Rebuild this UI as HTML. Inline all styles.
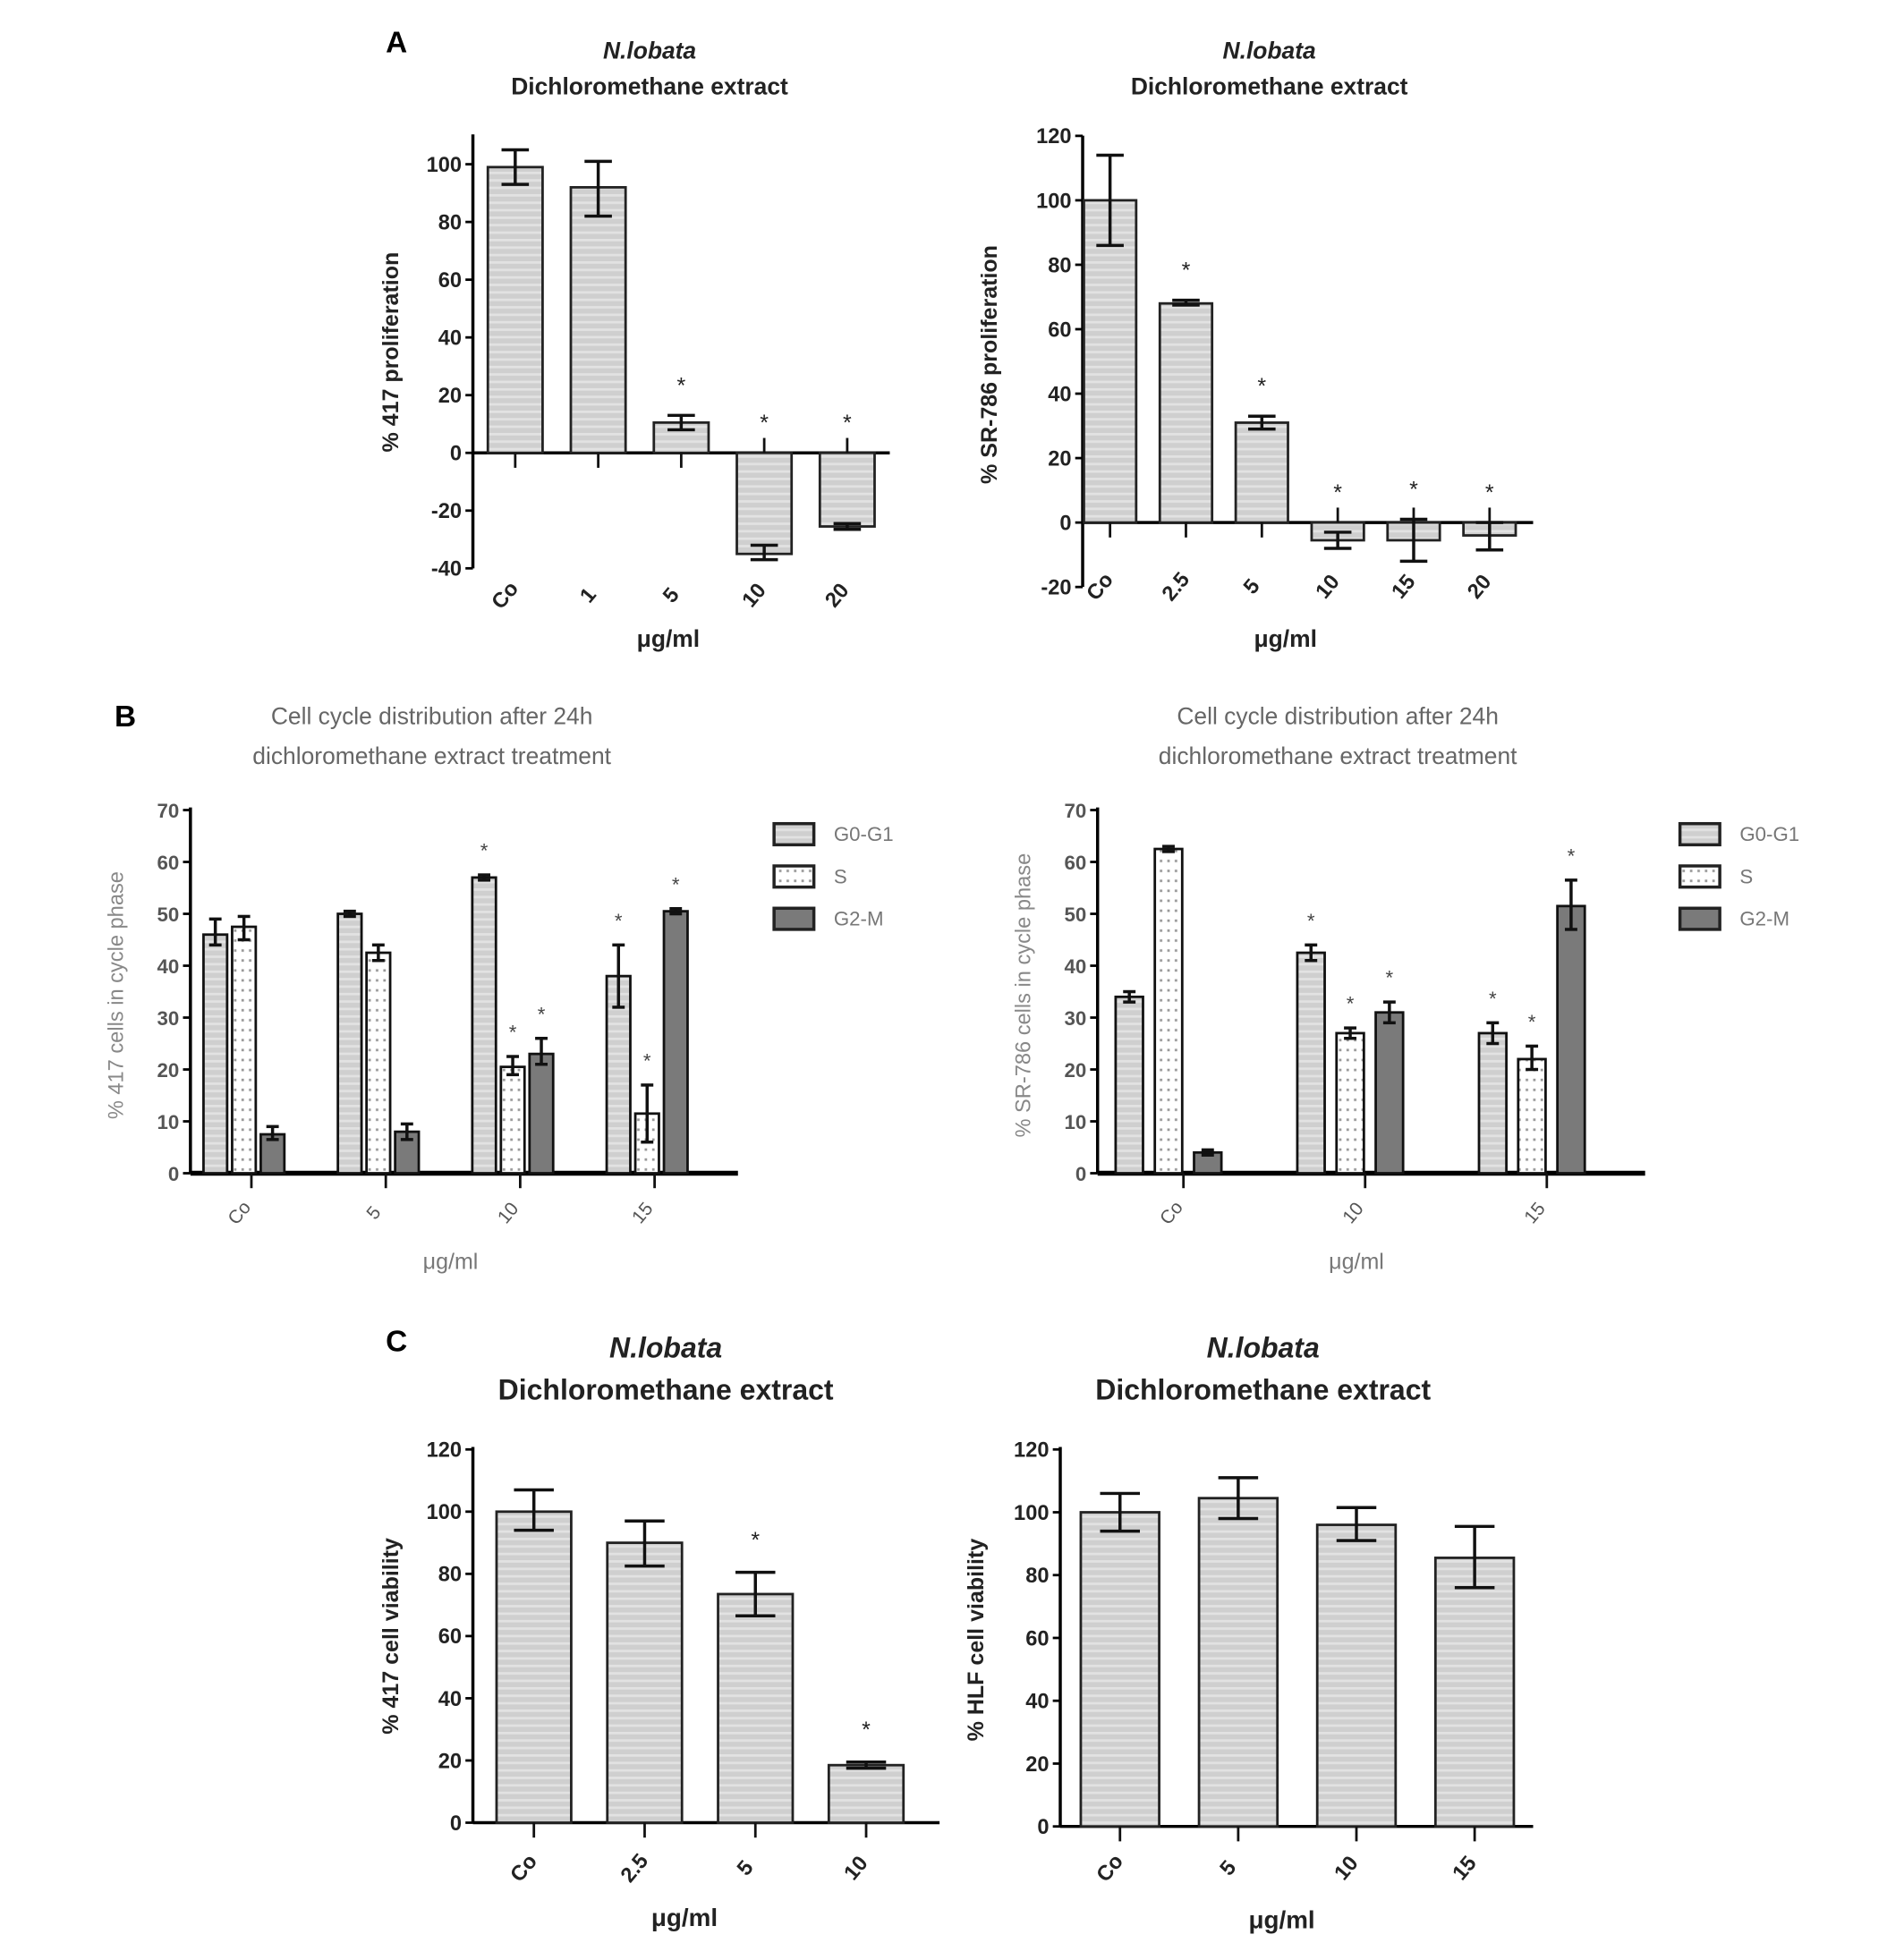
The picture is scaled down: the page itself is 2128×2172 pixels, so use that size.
<!DOCTYPE html>
<html><head><meta charset="utf-8"><style>
html,body{margin:0;padding:0;background:#fff;}
svg{display:block;}
text{font-family:"Liberation Sans",Arial,sans-serif;}
</style></head><body>
<svg id="fig" width="2128" height="2172" viewBox="0 0 1530 1561.7" xmlns="http://www.w3.org/2000/svg">
<defs>
<pattern id="stripe" width="8" height="6" patternUnits="userSpaceOnUse">
<rect width="8" height="6" fill="#cfcfcf"/><rect y="0" width="8" height="2" fill="#e2e2e2"/></pattern>
<pattern id="dots" width="6" height="8" patternUnits="userSpaceOnUse">
<rect width="6" height="8" fill="#fff"/><rect x="2" y="3" width="2" height="2" fill="#999"/></pattern>
</defs>
<g id="root"></g>
</svg>
<script>
// ---- Panel A left ----
const aLCats=["Co","1","5","10","20"];
const aLVals=[99,92,10.5,-35,-25.5];
const aLLo=[93,82,8,-37,-26.5];
const aLHi=[105,101,13,-32,-24.5];
const aLStars=[false,false,true,true,true];
const aLTicks=[-40,-20,0,20,40,60,80,100];
// ---- Panel A right ----
const aRCats=["Co","2.5","5","10","15","20"];
const aRVals=[100,68,31,-5.5,-5.5,-4];
const aRLo=[86,67.5,29,-8,-12,-8.5];
const aRHi=[114,69,33,-3,1,0];
const aRStars=[false,true,true,true,true,true];
const aRTicks=[-20,0,20,40,60,80,100,120];
// ---- Panel B left ----
const bLCats=["Co","5","10","15"];
const bLG0=[46,50,57,38];
const bLG0Lo=[44,49.5,56.5,32];
const bLG0Hi=[49,50.5,57.5,44];
const bLS=[47.5,42.5,20.5,11.5];
const bLSLo=[45,41,19,6];
const bLSHi=[49.5,44,22.5,17];
const bLG2=[7.5,8,23,50.5];
const bLG2Lo=[6.5,6.5,21,50];
const bLG2Hi=[9,9.5,26,51];
const bLStars=[[false,false,false],[false,false,false],[true,true,true],[true,true,true]];
// ---- Panel B right ----
const bRCats=["Co","10","15"];
const bRG0=[34,42.5,27];
const bRG0Lo=[33,41,25];
const bRG0Hi=[35,44,29];
const bRS=[62.5,27,22];
const bRSLo=[62,26,20];
const bRSHi=[63,28,24.5];
const bRG2=[4,31,51.5];
const bRG2Lo=[3.5,29,47];
const bRG2Hi=[4.5,33,56.5];
const bRStars=[[false,false,false],[true,true,true],[true,true,true]];
const bTicks=[0,10,20,30,40,50,60,70];
const bLegend=["G0-G1","S","G2-M"];
// ---- Panel C left ----
const cLCats=["Co","2.5","5","10"];
const cLVals=[100,90,73.5,18.5];
const cLLo=[94,82.5,66.5,17.5];
const cLHi=[107,97,80.5,19.5];
const cLStars=[false,false,true,true];
// ---- Panel C right ----
const cRCats=["Co","5","10","15"];
const cRVals=[100,104.5,96,85.5];
const cRLo=[94,98,91,76];
const cRHi=[106,111,101.5,95.5];
const cRStars=[false,false,false,false];
const cTicks=[0,20,40,60,80,100,120];

const NS="http://www.w3.org/2000/svg";
const root=document.getElementById('root');
function el(tag,attrs,parent,txt){const e=document.createElementNS(NS,tag);for(const k in attrs)e.setAttribute(k,attrs[k]);if(txt!==undefined)e.textContent=txt;(parent||root).appendChild(e);return e;}

function axisY(g,c,ticks,color){
  const y=v=>c.yZero-(v*c.k);
  const ax=el('line',{x1:c.x0,x2:c.x0,y1:c.yTop,y2:y(c.yMin),stroke:'#000','stroke-width':c.lw||2.5},g);
  
  ticks.forEach(t=>{
    el('line',{x1:c.x0-6,x2:c.x0,y1:y(t),y2:y(t),stroke:'#000','stroke-width':2},g);
    const tx=el('text',{x:c.x0-9,y:y(t)+6,'text-anchor':'end','font-size':c.fs||17,'font-weight':'bold',fill:color||'#222'},g,String(t));
    
  });
  const xa=el('line',{x1:c.x0,x2:c.x1,y1:y(0),y2:y(0),stroke:'#000','stroke-width':c.xw||2.5},g);
  
  return y;
}
function texts(g,c,title2Size,italicTitle,ytitle,grey){
  const col=grey?'#666':'#222';
  if(italicTitle){
    const t1=el('text',{x:c.tx,y:c.ty1,'text-anchor':'middle','font-size':title2Size,'font-weight':'bold','font-style':'italic',fill:col},g,italicTitle);
    
  }
  const t2=el('text',{x:c.tx,y:c.ty2,'text-anchor':'middle','font-size':title2Size,'font-weight':grey?'normal':'bold',fill:col},g,c.title2);
  
  const yt=el('text',{x:0,y:0,transform:`translate(${c.ytx},${c.yty}) rotate(-90)`,'text-anchor':'middle','font-size':c.ytfs||18,'font-weight':grey?'normal':'bold',fill:grey?'#888':'#222'},g,ytitle);
  
  const xt=el('text',{x:c.xtx,y:c.xty,'text-anchor':'middle','font-size':c.xtfs||19,'font-weight':grey?'normal':'bold',fill:grey?'#777':'#222'},g,'μg/ml');
  
}
function errBar(g,cx,y,lo,hi,cap,w){
  el('line',{x1:cx,x2:cx,y1:y(lo),y2:y(hi),stroke:'#111','stroke-width':w||2.5},g);
  el('line',{x1:cx-cap,x2:cx+cap,y1:y(lo),y2:y(lo),stroke:'#111','stroke-width':w||2.5},g);
  el('line',{x1:cx-cap,x2:cx+cap,y1:y(hi),y2:y(hi),stroke:'#111','stroke-width':w||2.5},g);
}
function barChart(c,cats,vals,lo,hi,stars,ticks){
  const g=el('g',{});
  const y=axisY(g,c,ticks);
  cats.forEach((cat,i)=>{
    const cx=c.c0+i*c.step;const v=vals[i];
    const top=Math.min(y(v),y(0)),h=Math.abs(y(v)-y(0));
    const b=el('rect',{x:cx-c.bw/2,y:top,width:c.bw,height:h,fill:'url(#stripe)',stroke:'#222','stroke-width':2},g);
    
    errBar(g,cx,y,lo[i],hi[i],c.cap);
    el('line',{x1:cx,x2:cx,y1:y(0),y2:y(0)+(v<0?-12:12),stroke:'#111','stroke-width':2},g);
    if(stars[i]){const s=el('text',{x:cx,y:y(Math.max(hi[i],0))-c.starOff,'text-anchor':'middle','font-size':18,fill:'#222'},g,'*');
      }
    const lx=cx-4,ly=c.labY;
    const t=el('text',{x:0,y:0,transform:`translate(${lx},${ly}) rotate(-50)`,'text-anchor':'middle','font-size':c.fs||17,'font-weight':'bold',fill:'#222'},g,cat);
    
  });
  return g;
}
function groupChart(c,cats,series,stars){
  const g=el('g',{});
  const y=axisY(g,c,bTicks,'#555');
  const fills=['url(#stripe)','url(#dots)','#7a7a7a'];
  cats.forEach((cat,i)=>{
    const gc=c.c0+i*c.step;
    series.forEach((s,j)=>{
      const cx=gc+(j-1)*c.off;
      const b=el('rect',{x:cx-c.bw/2,y:y(s.v[i]),width:c.bw,height:y(0)-y(s.v[i]),fill:fills[j],stroke:'#111','stroke-width':2},g);
      
      errBar(g,cx,y,s.lo[i],s.hi[i],5,2.5);
      if(stars[i][j]){const st=el('text',{x:cx,y:y(s.hi[i])-14,'text-anchor':'middle','font-size':16,fill:'#444'},g,'*');
        }
    });
    el('line',{x1:gc+c.tickDx,x2:gc+c.tickDx,y1:y(0),y2:y(0)+12,stroke:'#111','stroke-width':2},g);
    const t=el('text',{x:0,y:0,transform:`translate(${gc+c.tickDx-6},${c.labY}) rotate(-50)`,'text-anchor':'middle','font-size':15,fill:'#555'},g,cat);
    
  });
  bLegend.forEach((L,j)=>{
    const r=el('rect',{x:c.lx,y:c.ly+j*34-8,width:32,height:17,fill:fills[j],stroke:'#222','stroke-width':2.5},g);
    
    const t=el('text',{x:c.lx+48,y:c.ly+j*34+6,'font-size':16,fill:'#777'},g,L);
    
  });
  return g;
}
// Panel letters
[['A',310,42],['B',92,584],['C',310,1086]].forEach(([L,x,yy])=>{
  const t=el('text',{x:x,y:yy,'font-size':24,'font-weight':'bold','font-family':'Liberation Serif,serif',fill:'#000'},root,L);
  
});
// A left
const cAL={name:'chart-a-417-proliferation',x0:380,x1:715,yTop:108,yZero:364,k:2.32,yMin:-40,c0:414,step:66.7,bw:44,cap:11,starOff:18,labY:482,tx:522,ty1:47,ty2:76,title2:'Dichloromethane extract',ytx:320,yty:283,xtx:537,xty:520};
const gAL=barChart(cAL,aLCats,aLVals,aLLo,aLHi,aLStars,aLTicks);texts(gAL,cAL,19,'N.lobata','% 417 proliferation');
const cAR={name:'chart-a-sr786-proliferation',x0:870,x1:1232,yTop:109,yZero:420,k:2.59,yMin:-20,c0:892,step:61,bw:42,cap:11,starOff:18,labY:475,tx:1020,ty1:47,ty2:76,title2:'Dichloromethane extract',ytx:801,yty:293,xtx:1033,xty:520};
const gAR=barChart(cAR,aRCats,aRVals,aRLo,aRHi,aRStars,aRTicks);texts(gAR,cAR,19,'N.lobata','% SR-786 proliferation');
// B left
const cBL={name:'chart-b-417-cell-cycle',x0:153,x1:593,yTop:649,yZero:943,k:4.17,yMin:0,c0:196,step:108,off:23,bw:19,tickDx:6,labY:978,lx:622,ly:670,xw:4,fs:16,tx:347,ty2:614,title2:'dichloromethane extract treatment',ytx:99,yty:800,ytfs:17,xtx:362,xty:1020,xtfs:18};
const gBL=groupChart(cBL,bLCats,[{v:bLG0,lo:bLG0Lo,hi:bLG0Hi},{v:bLS,lo:bLSLo,hi:bLSHi},{v:bLG2,lo:bLG2Lo,hi:bLG2Hi}],bLStars);
texts(gBL,cBL,19,null,'% 417 cells in cycle phase',true);
const cBR={name:'chart-b-sr786-cell-cycle',x0:882,x1:1322,yTop:649,yZero:943,k:4.17,yMin:0,c0:939,step:146,off:31.5,bw:22,tickDx:12,labY:978,lx:1350,ly:670,xw:4,fs:16,tx:1075,ty2:614,title2:'dichloromethane extract treatment',ytx:828,yty:800,ytfs:17,xtx:1090,xty:1020,xtfs:18};
const gBR=groupChart(cBR,bRCats,[{v:bRG0,lo:bRG0Lo,hi:bRG0Hi},{v:bRS,lo:bRSLo,hi:bRSHi},{v:bRG2,lo:bRG2Lo,hi:bRG2Hi}],bRStars);
texts(gBR,cBR,19,null,'% SR-786 cells in cycle phase',true);
[[347,582,gBL],[1075,582,gBR]].forEach(([x,yy,g])=>{const t=el('text',{x:x,y:yy,'text-anchor':'middle','font-size':19,fill:'#666'},g,'Cell cycle distribution after 24h');
  });
// C left
const cCL={name:'chart-c-417-viability',x0:380,x1:755,yTop:1163,yZero:1465,k:2.5,yMin:0,c0:429,step:89,bw:60,cap:16,starOff:20,labY:1505,tx:535,ty1:1091,ty2:1125,title2:'Dichloromethane extract',ytx:320,yty:1315,xtx:550,xty:1548,xtfs:20};
const gCL=barChart(cCL,cLCats,cLVals,cLLo,cLHi,cLStars,cTicks);texts(gCL,cCL,23,'N.lobata','% 417 cell viability');
const cCR={name:'chart-c-hlf-viability',x0:852,x1:1232,yTop:1163,yZero:1468,k:2.525,yMin:0,c0:900,step:95,bw:63,cap:16,starOff:20,labY:1505,tx:1015,ty1:1091,ty2:1125,title2:'Dichloromethane extract',ytx:790,yty:1318,xtx:1030,xty:1550,xtfs:20};
const gCR=barChart(cCR,cRCats,cRVals,cRLo,cRHi,cRStars,cTicks);texts(gCR,cCR,23,'N.lobata','% HLF cell viability');
</script>
</body></html>
